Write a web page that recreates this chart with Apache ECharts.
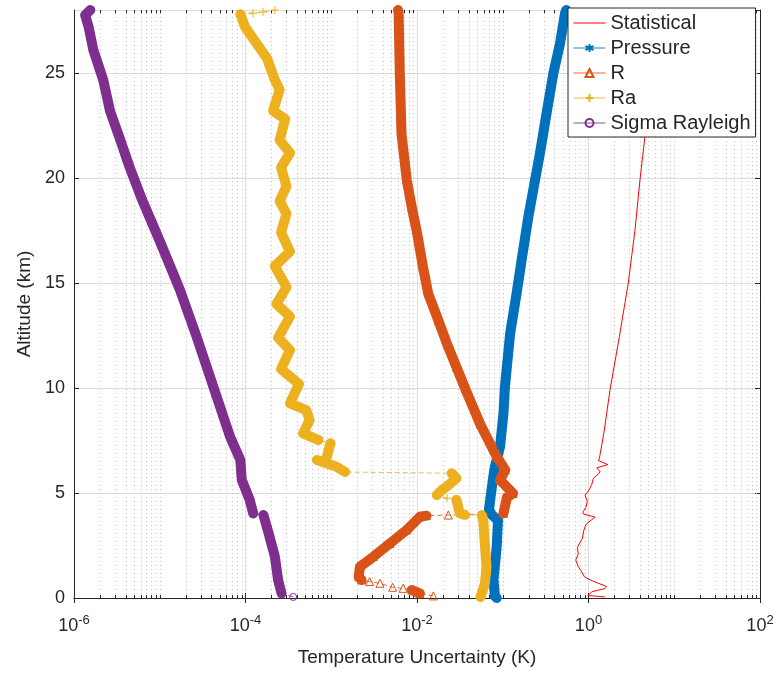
<!DOCTYPE html>
<html><head><meta charset="utf-8">
<script src="https://cdn.jsdelivr.net/npm/echarts@6/dist/echarts.min.js"></script>
<style>html,body{margin:0;padding:0;background:#fff}#c{width:780px;height:673px}</style>
</head><body><div id="c"></div>
<script>
// ---------- data ----------
const xTickExps = [-6, -4, -2, 0, 2];
const yTicks = [0, 5, 10, 15, 20, 25];
const seriesNames = ['Statistical', 'Pressure', 'R', 'Ra', 'Sigma Rayleigh'];

const statAlt = [0.05,0.12,0.2,0.3,0.45,0.55,0.7,0.86,1.0,1.25,1.5,1.81,2.1,2.4,2.85,3.2,3.5,3.85,4.0,4.1,4.3,4.6,4.9,5.1,5.4,5.7,6.0,6.2,6.35,6.55,6.65,8.0,9.9,12.44,15.0,17.5,19.9,22.0,25.0,28.0];
const statVal = [1.55,0.98,1.0,1.1,1.55,1.63,1.3,1.05,0.9,0.83,0.76,0.71,0.76,0.74,0.85,0.88,0.93,1.19,0.87,0.86,0.93,0.97,0.91,1.0,1.09,1.14,1.37,1.25,1.68,1.3,1.34,1.53,1.78,2.29,2.91,3.48,3.98,4.56,5.5,6.7];

const pressAlt = [0.0,0.1,0.86,2.44,3.7,3.95,4.2,4.98,6.0,6.25,7.2,8.8,10.06,12.6,14.5,16.1,18.16,19.9,21.2,23.1,24.98,26.4,27.84,28.0];
const pressVal = [0.085,0.081,0.078,0.085,0.088,0.075,0.069,0.073,0.079,0.081,0.093,0.102,0.106,0.122,0.145,0.166,0.199,0.238,0.272,0.325,0.389,0.465,0.532,0.55];

const rAlt = [0.10,0.22,0.38,0.46,0.51,0.70,0.78,0.86,1.01,1.49,1.97,2.6,3.24,3.87,3.92,3.95,4.03,4.8,4.98,5.62,6.1,6.73,8.3,9.99,11.0,12.1,13.2,14.5,15.8,17.4,18.6,19.9,22.1,24.98,27.9,28.0];
const rVal = [0.0155,0.0108,0.0087,0.0069,0.0052,0.0037,0.0028,0.00226,0.00209,0.00216,0.0031,0.00484,0.0076,0.0108,0.0129,0.0232,0.102,0.112,0.132,0.093,0.107,0.085,0.0543,0.0363,0.0288,0.0224,0.0178,0.0135,0.0117,0.0100,0.0087,0.0076,0.0066,0.0063,0.0061,0.0060];

const raAlt = [0.05,0.22,0.7,1.49,2.44,3.71,3.95,3.96,4.03,4.35,4.67,4.75,4.9,5.14,5.38,5.7,5.94,6.0,6.25,6.57,6.73,7.37,7.52,7.84,8.48,8.95,9.27,10.2,10.9,11.8,12.4,13.4,14.0,14.8,15.8,16.5,17.4,18.3,18.9,19.6,20.5,21.2,21.8,22.8,23.2,24.2,24.67,25.7,26.4,27.2,27.8,27.85,27.9,28.0];
const raVal = [0.055,0.0569,0.0621,0.0646,0.0621,0.0593,0.0569,0.0363,0.0316,0.0302,0.0288,0.0224,0.0170,0.0195,0.0234,0.0288,0.0254,0.00145,0.00115,0.00068,0.00089,0.00098,0.00071,0.00047,0.00056,0.00051,0.00033,0.00042,0.00026,0.00033,0.00024,0.00033,0.00023,0.0003,0.00022,0.00033,0.00026,0.0003,0.00025,0.0003,0.00026,0.00033,0.00025,0.00029,0.00021,0.00025,0.00022,0.000178,0.000135,0.0000986,0.0000871,0.000122,0.00016,0.00022];

const sigAlt = [0.05,0.22,0.86,1.97,3.08,3.95,4.03,4.67,5.62,6.57,7.68,10.06,12.44,14.67,17.0,19.0,20.5,21.8,23.2,24.67,26.1,27.2,27.76,28.0];
const sigVal = [0.00036,0.000263,0.00024,0.00022,0.000186,0.000162,0.000123,0.000112,0.0000904,0.0000871,0.0000661,0.0000422,0.0000269,0.0000172,0.0000100,0.00000617,0.00000447,0.00000347,0.00000263,0.00000219,0.00000168,0.00000148,0.00000135,0.00000155];

// ---------- styling ----------
const FONT = "'Liberation Sans', Arial, Helvetica, sans-serif";
const TXT = '#262626';
const C = { stat: '#FF0000', press: '#0072BD', r: '#D95319', ra: '#EDB120', sig: '#7E2F8E' };
const X_MIN = 1e-6, X_MAX = 1e2, Y_MIN = 0, Y_MAX = 28;

const zip = (xs, ys) => xs.map((x, i) => [x, ys[i]]);
// thick band where the marker cloud is continuous (steep segments); break at near-horizontal jumps
function band(vals, alts) {
  const out = []; let prev = false;
  for (let i = 0; i < vals.length - 1; i++) {
    const dl = Math.abs(Math.log10(vals[i + 1]) - Math.log10(vals[i]));
    const da = Math.abs(alts[i + 1] - alts[i]);
    const steep = !(dl > 0.09 && dl / Math.max(da, 1e-6) > 0.73);
    if (steep) { if (!prev) out.push([vals[i], alts[i]]); out.push([vals[i + 1], alts[i + 1]]); }
    else if (prev) out.push(['-', '-']);
    prev = steep;
  }
  return out;
}
const minorTicks = [];
for (let e = -6; e < 2; e++) for (let m = 1; m < 10; m++) {
  if (m === 1 && e % 2 === 0) continue;
  minorTicks.push([m * Math.pow(10, e), 0]);
}

const SYM_PLUS = 'path://M0,-1L0,1M-1,0L1,0';
const SYM_STAR = 'path://M0,-1L0,1M-0.87,-0.5L0.87,0.5M-0.87,0.5L0.87,-0.5';

function bandSeries(name, vals, alts, color) {
  return { name: name + ' band', type: 'line', data: band(vals, alts), showSymbol: false, symbol: 'none',
    connectNulls: false, silent: true, lineStyle: { color, width: 10, cap: 'round', join: 'round' } };
}
function markSeries(name, vals, alts, color, symbol, size) {
  return { name, type: 'line', data: zip(vals, alts), symbol, symbolSize: size, showSymbol: true,
    lineStyle: { color, width: 1, type: [5, 3], opacity: 0.85 },
    itemStyle: { color: 'rgba(0,0,0,0)', borderColor: color, borderWidth: 1 } };
}

const chart = echarts.init(document.getElementById('c'), null, { renderer: 'canvas' });
chart.setOption({
  animation: false,
  backgroundColor: '#fff',
  grid: { left: 74, right: 20, top: 10, bottom: 75 },
  xAxis: [{
    type: 'log', logBase: 10, min: X_MIN, max: X_MAX, interval: 2,
    name: 'Temperature Uncertainty (K)', nameLocation: 'middle', nameGap: 50,
    nameTextStyle: { color: TXT, fontSize: 19, fontFamily: FONT },
    axisLine: { show: true, lineStyle: { color: TXT, width: 1 } },
    axisTick: { show: true, inside: true, length: 5, lineStyle: { color: TXT } },
    axisLabel: { margin: 16, formatter: v => {
        const e = Math.round(Math.log10(v));
        return xTickExps.indexOf(e) >= 0 ? '{b|10}{s|' + e + '}' : '';
      },
      rich: { b: { fontSize: 18, color: TXT, fontFamily: FONT },
              s: { fontSize: 13, color: TXT, fontFamily: FONT, padding: [0, 0, 12, 0] } } },
    splitLine: { show: true, lineStyle: { color: '#dcdcdc', width: 1 } }
  }, {
    type: 'log', logBase: 10, min: X_MIN, max: X_MAX, interval: 2, position: 'top',
    axisLine: { show: true, lineStyle: { color: TXT, width: 1 } },
    axisTick: { show: true, inside: true, length: 5, lineStyle: { color: TXT } },
    axisLabel: { show: false }, splitLine: { show: false }
  }],
  yAxis: [{
    type: 'value', min: Y_MIN, max: Y_MAX, interval: 5,
    name: 'Altitude (km)', nameLocation: 'middle', nameGap: 40, nameRotate: 90,
    nameTextStyle: { color: TXT, fontSize: 19, fontFamily: FONT },
    axisLine: { show: true, lineStyle: { color: TXT, width: 1 } },
    axisTick: { show: true, inside: true, length: 5, lineStyle: { color: TXT } },
    axisLabel: { color: TXT, fontSize: 18, fontFamily: FONT, margin: 9, showMaxLabel: false,
      formatter: v => (yTicks.indexOf(v) >= 0 ? String(v) : '') },
    splitLine: { show: true, lineStyle: { color: '#dcdcdc', width: 1 } }
  }, {
    type: 'value', min: Y_MIN, max: Y_MAX, interval: 5, position: 'right',
    axisLine: { show: true, lineStyle: { color: TXT, width: 1 } },
    axisTick: { show: true, inside: true, length: 5, lineStyle: { color: TXT } },
    axisLabel: { show: false }, splitLine: { show: false }
  }],
  legend: {
    orient: 'vertical', left: 568, top: 8, padding: [5, 5, 4, 5],
    itemWidth: 32, itemHeight: 10, itemGap: 5,
    backgroundColor: '#fff', borderColor: TXT, borderWidth: 1,
    textStyle: { color: TXT, fontSize: 20, fontFamily: FONT },
    lineStyle: { type: 'solid', width: 1 },
    data: [{ name: seriesNames[0], icon: 'path://M0,0H32V1H0Z', itemStyle: { color: C.stat } }].concat(seriesNames.slice(1))
  },
  series: [
    { name: 'minor grid', type: 'custom', data: minorTicks, silent: true, clip: false, z: 1,
      renderItem: (params, api) => {
        const v = api.value(0);
        const b = api.coord([v, Y_MIN]), t = api.coord([v, Y_MAX]);
        const x = Math.round(b[0]) + 0.5;
        return { type: 'group', children: [
          { type: 'line', shape: { x1: x, y1: b[1], x2: x, y2: t[1] }, style: { stroke: '#c4c4c4', lineWidth: 1, lineDash: [1, 3] } },
          { type: 'line', shape: { x1: x, y1: b[1], x2: x, y2: b[1] - 3 }, style: { stroke: TXT, lineWidth: 1 } },
          { type: 'line', shape: { x1: x, y1: t[1], x2: x, y2: t[1] + 3 }, style: { stroke: TXT, lineWidth: 1 } }
        ] };
      } },
    { name: 'Statistical', type: 'line', data: zip(statVal, statAlt), symbol: 'none', showSymbol: false,
      lineStyle: { color: C.stat, width: 1 }, itemStyle: { color: C.stat } },
    bandSeries('Pressure', pressVal, pressAlt, C.press),
    markSeries('Pressure', pressVal, pressAlt, C.press, SYM_STAR, 7),
    bandSeries('R', rVal, rAlt, C.r),
    markSeries('R', rVal, rAlt, C.r, 'triangle', 8),
    bandSeries('Ra', raVal, raAlt, C.ra),
    markSeries('Ra', raVal, raAlt, C.ra, SYM_PLUS, 8),
    bandSeries('Sigma Rayleigh', sigVal, sigAlt, C.sig),
    markSeries('Sigma Rayleigh', sigVal, sigAlt, C.sig, 'circle', 7)
  ]
});
</script></body></html>
